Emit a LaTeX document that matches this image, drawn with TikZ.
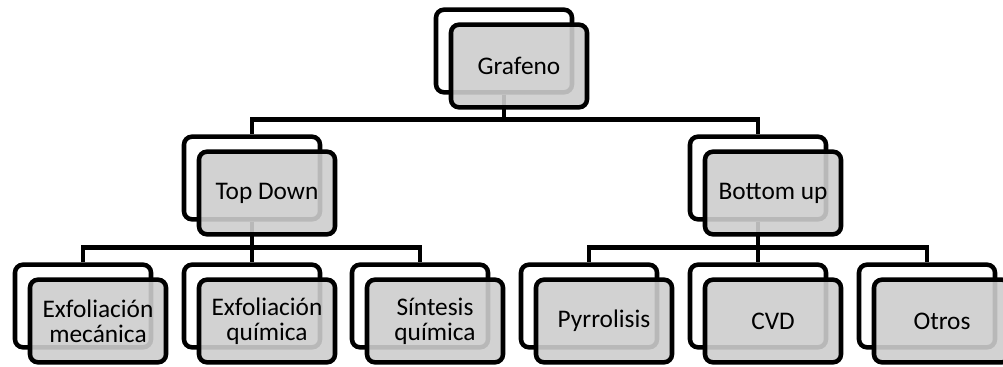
\documentclass[tikz,border=0pt]{standalone}
\usepackage{fontspec}
\setmainfont{Carlito}
\definecolor{cardgray}{RGB}{205,205,205}

\begin{document}
\begin{tikzpicture}[x=0.75pt, y=-0.75pt, line width=3.4pt,
  frame/.style = {shape=rectangle, rounded corners=6pt, draw, minimum width=102pt, minimum height=62pt},
  card/.style = {frame, fill=cardgray, fill opacity=0.9, text opacity=1, align=center,
                 font=\fontsize{19}{19}\selectfont}]
  \useasboundingbox (0,0) rectangle (1003,367);
  \clip (0,0) rectangle (1003,367);
  % back frames
  \node[frame] (g)   at (504,51)  {};
  \node[frame] (td)  at (252,178) {};
  \node[frame] (bu)  at (758,178) {};
  \node[frame] (em)  at (83,306)  {};
  \node[frame] (eq)  at (252,306) {};
  \node[frame] (sq)  at (420,306) {};
  \node[frame] (py)  at (589,306) {};
  \node[frame] (cvd) at (758,306) {};
  \node[frame] (ot)  at (927,306) {};
  % connectors
  \foreach \c in {td,bu} \draw (g.south) -- ++(0,25) -| (\c.north);
  \foreach \c in {em,eq,sq} \draw (td.south) -- ++(0,26) -| (\c.north);
  \foreach \c in {py,cvd,ot} \draw (bu.south) -- ++(0,26) -| (\c.north);
  % front cards
  \node[card] (g-c)   at ([shift={(15,15)}]g.center)   {Grafeno};
  \node[card] (td-c)  at ([shift={(15,15)}]td.center)  {Top Down};
  \node[card] (bu-c)  at ([shift={(15,15)}]bu.center)  {Bottom up};
  \node[card] (em-c)  at ([shift={(15,15)}]em.center)  {Exfoliación\\mecánica};
  \node[card] (eq-c)  at ([shift={(15,15)}]eq.center)  {Exfoliación\\química};
  \node[card] (sq-c)  at ([shift={(15,15)}]sq.center)  {Síntesis\\química};
  \node[card] (py-c)  at ([shift={(15,15)}]py.center)  {Pyrrolisis};
  \node[card] (cvd-c) at ([shift={(15,15)}]cvd.center) {CVD};
  \node[card] (ot-c)  at ([shift={(15,15)}]ot.center)  {Otros};
\end{tikzpicture}
\end{document}
